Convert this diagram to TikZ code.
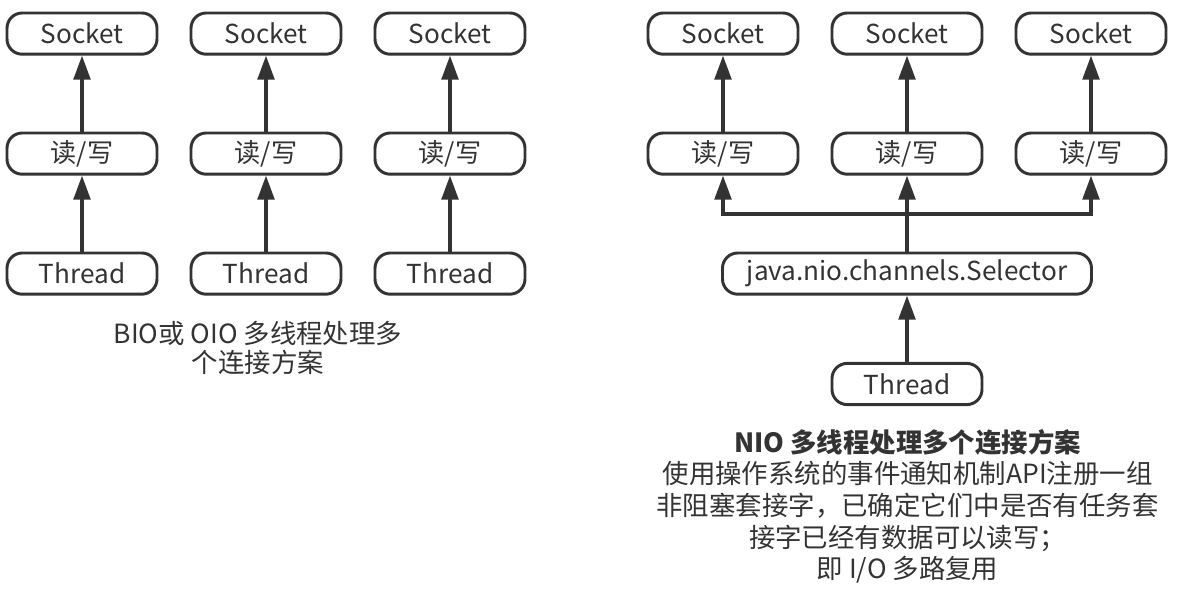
\documentclass[tikz,border=0pt]{standalone}
\usepackage{fontspec}
\setmainfont{Noto Sans CJK SC}
\usepackage{tikz}
\usetikzlibrary{arrows.meta,positioning}
\definecolor{ink}{HTML}{333333}

\begin{document}
\begin{tikzpicture}[
    bx/.style={draw=ink, line width=2.1pt, rounded corners=0.38cm, minimum width=3.75cm,
      minimum height=1.03cm, inner sep=0pt, text=ink, font=\fontsize{18.6}{20}\selectfont},
    ar/.style={draw=ink, line width=2.2pt, -{Triangle[length=0.6cm,width=0.42cm]}},
    captxt/.style={text=ink, align=center, font=\fontsize{18.8}{20.8}\selectfont}
  ]
    \useasboundingbox (0,0) rectangle (29.95,-14.85);
    % ---- BIO / OIO: one thread per socket ----
    \foreach \i/\x in {1/2.05,2/6.65,3/11.25} {
      \node[bx] (s\i) at (\x,-0.84) {Socket};
      \node[bx] (w\i) at (\x,-3.84) {读/写};
      \node[bx] (t\i) at (\x,-6.84) {Thread};
      \draw[ar] (t\i)--(w\i);
      \draw[ar] (w\i)--(s\i);
    }
    \node[captxt] (bio) at (6.45,-8.69) {BIO或 OIO 多线程处理多\\个连接方案};
    % ---- NIO: one thread, one selector ----
    \foreach \i/\x in {1/18.075,2/22.675,3/27.275} {
      \node[bx] (S\i) at (\x,-0.84) {Socket};
      \node[bx] (W\i) at (\x,-3.84) {读/写};
      \draw[ar] (W\i)--(S\i);
    }
    \node[bx, minimum width=9.225cm] (sel) at (22.675,-6.84) {java.nio.channels.Selector};
    \node[bx] (T) at (22.675,-9.6) {Thread};
    \coordinate (bus) at (22.675,-5.35);
    \draw[ar] (T)--(sel);
    \draw[ar] (sel)--(W2);
    \draw[ar] (bus) -| (W1);
    \draw[ar] (bus) -| (W3);
    \node[captxt, font=\fontsize{18.8}{22.5}\selectfont] (nio) at (22.69,-12.66)
      {{\bfseries NIO 多线程处理多个连接方案}\\
       使用操作系统的事件通知机制API注册一组\\
       非阻塞套接字，已确定它们中是否有任务套\\
       接字已经有数据可以读写；\\
       即 I/O 多路复用};
  \end{tikzpicture}
\end{document}
